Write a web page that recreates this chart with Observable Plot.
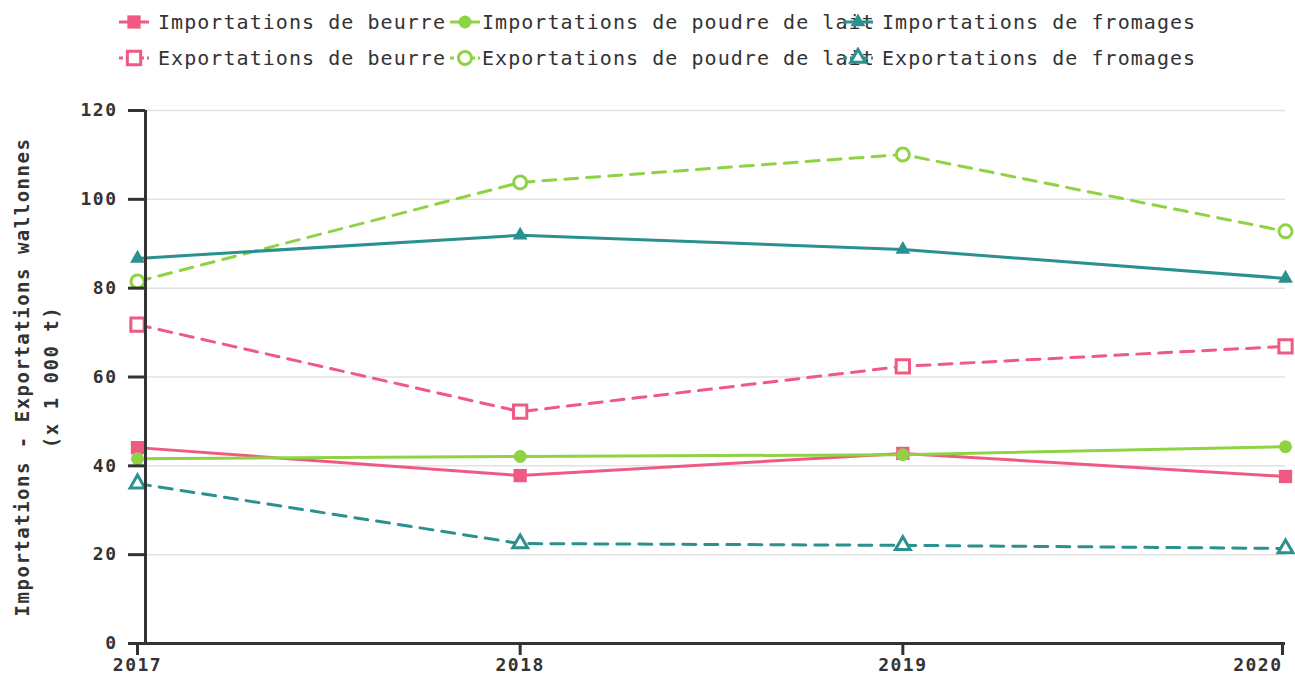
<!DOCTYPE html>
<html>
<head>
<meta charset="utf-8">
<script src="https://cdn.jsdelivr.net/npm/d3@7"></script>
<script src="https://cdn.jsdelivr.net/npm/@observablehq/plot@0.6"></script>
<style>
  body { margin: 0; background: #fff; font-family: "DejaVu Sans Mono", monospace; }
  #legend { position: relative; width: 1295px; height: 80px; }
  .sym { position: absolute; transform: translate(-50%, -50%); }
  .lab { position: absolute; transform: translateY(-50%); font-size: 20px; letter-spacing: 1.05px; color: #333; white-space: nowrap; line-height: 1; }
  #chart svg { display: block; }
</style>
</head>
<body>
<div id="legend"></div>
<div id="chart"></div>
<script>
// ---- data ----
const years = [2017, 2018, 2019, 2020];
const yTicks = [0, 20, 40, 60, 80, 100, 120];
const seriesNames = [
  "Importations de beurre",
  "Exportations de beurre",
  "Importations de poudre de lait",
  "Exportations de poudre de lait",
  "Importations de fromages",
  "Exportations de fromages"
];
const importBeurre   = [44.1, 37.8, 42.8, 37.6];
const exportBeurre   = [71.8, 52.2, 62.4, 66.9];
const importPoudre   = [41.6, 42.1, 42.5, 44.3];
const exportPoudre   = [81.5, 103.8, 110.1, 92.8];
const importFromages = [86.7, 91.9, 88.7, 82.2];
const exportFromages = [36.0, 22.5, 22.1, 21.4];
const yLabel = "Importations - Exportations wallonnes\n(x 1 000 t)";

// ---- styles ----
const pink = "#ef5a83", green = "#8fd345", teal = "#2b9090";
const seriesStyle = [
  {values: importBeurre,   color: pink,  symbol: "square",   open: false, r: 7.5},
  {values: exportBeurre,   color: pink,  symbol: "square",   open: true,  r: 7.5},
  {values: importPoudre,   color: green, symbol: "circle",   open: false, r: 6.5},
  {values: exportPoudre,   color: green, symbol: "circle",   open: true,  r: 6.5},
  {values: importFromages, color: teal,  symbol: "triangle", open: false, r: 5.5},
  {values: exportFromages, color: teal,  symbol: "triangle", open: true,  r: 5.5}
];
const series = seriesNames.map((name, i) => ({name, ...seriesStyle[i]}));
const dash = "13,9";

// ---- legend (HTML) ----
const legendSymX = [134, 465, 858];
const legendTextX = [158, 482, 882];
const legendRows = [22, 58];
const legend = document.getElementById("legend");
series.forEach((s, i) => {
  const col = Math.floor(i / 2), row = i % 2;
  const sym = d3.symbol(s.symbol === "square" ? d3.symbolSquare : s.symbol === "circle" ? d3.symbolCircle : d3.symbolTriangle, Math.PI * s.r * s.r)();
  const svgDiv = document.createElement("div");
  svgDiv.className = "sym";
  svgDiv.style.left = legendSymX[col] + "px";
  svgDiv.style.top = legendRows[row] + "px";
  svgDiv.innerHTML =
    `<svg width="30" height="22" viewBox="-15 -11 30 22" style="display:block">` +
    `<line x1="-15" x2="15" y1="0" y2="0" stroke="${s.color}" stroke-width="3" ${s.open ? `stroke-dasharray="4,3"` : ""}/>` +
    `<path d="${sym}" fill="${s.open ? "white" : s.color}" stroke="${s.color}" stroke-width="${s.open ? 3 : 0}"/>` +
    `</svg>`;
  const lab = document.createElement("div");
  lab.className = "lab";
  lab.style.left = legendTextX[col] + "px";
  lab.style.top = legendRows[row] + "px";
  lab.textContent = s.name;
  legend.appendChild(lab);
  legend.appendChild(svgDiv);
});

// ---- chart ----
const rows = series.flatMap(s => years.map((year, i) => ({year, value: s.values[i], name: s.name})));

const marks = [
  Plot.gridY(yTicks, {stroke: "#e2e2e2", strokeOpacity: 1, strokeWidth: 1.5}),
];
series.forEach(s => {
  const data = rows.filter(d => d.name === s.name);
  marks.push(Plot.line(data, {x: "year", y: "value", stroke: s.color, strokeWidth: 3, strokeDasharray: s.open ? dash : null}));
});
series.forEach(s => {
  const data = rows.filter(d => d.name === s.name);
  marks.push(Plot.dot(data, {x: "year", y: "value", symbol: () => s.symbol, r: s.r,
    fill: s.open ? "white" : s.color, stroke: s.color, strokeWidth: s.open ? 3 : 0}));
});
const axisText = {fill: "#333", fontWeight: "bold", fontSize: 18, label: null};
marks.push(
  Plot.axisY({ticks: yTicks, tickSize: 17, tickPadding: 11, dx: 8, stroke: "#333", strokeWidth: 3, ...axisText}),
  Plot.axisX({ticks: years.slice(0, -1), tickFormat: d => String(d), tickSize: 12, tickPadding: 3, stroke: "#333", strokeWidth: 3, ...axisText}),
  Plot.axisX({ticks: years.slice(-1), tickFormat: d => String(d), tickSize: 12, tickPadding: 3, stroke: "#333", strokeWidth: 3,
    textAnchor: "end", dx: -3, ...axisText}),
  Plot.ruleX([years[0]], {dx: 8, stroke: "#333", strokeWidth: 3}),
  Plot.ruleY([0], {stroke: "#333", strokeWidth: 3, insetLeft: -9}),
  Plot.text([yLabel], {frameAnchor: "left", rotate: -90, dx: -103, textAnchor: "middle", lineAnchor: "middle",
    lineHeight: 1.5, fontSize: 19, fontWeight: "bold", fill: "#333"})
);

const chart = Plot.plot({
  width: 1295,
  height: 602,
  marginTop: 30,
  marginBottom: 39,
  marginLeft: 137,
  marginRight: 10,
  style: {fontFamily: "DejaVu Sans Mono, monospace", letterSpacing: "1.5px", background: "white", overflow: "visible"},
  x: {type: "linear", domain: [years[0], years[years.length - 1]]},
  y: {domain: [0, 120]},
  marks
});
document.getElementById("chart").appendChild(chart);
</script>
</body>
</html>
